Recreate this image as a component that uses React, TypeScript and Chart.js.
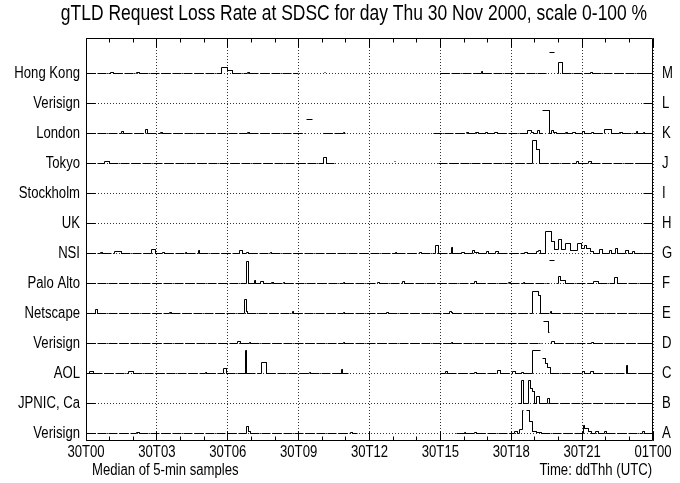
import React, { useEffect, useRef } from 'react';
import { Chart, registerables } from 'chart.js';

Chart.register(...registerables);

const TITLE = 'gTLD Request Loss Rate at SDSC for day Thu 30 Nov 2000, scale 0-100 %';
const FOOT_LEFT = 'Median of 5-min samples';
const FOOT_RIGHT = 'Time: ddThh (UTC)';
const X_TICK_LABELS = ['30T00', '30T03', '30T06', '30T09', '30T12', '30T15', '30T18', '30T21', '01T00'];
// rows from bottom (A) to top (M)
const ROW_NAMES = ['Verisign', 'JPNIC, Ca', 'AOL', 'Verisign', 'Netscape', 'Palo Alto', 'NSI', 'UK', 'Stockholm', 'Tokyo', 'London', 'Verisign', 'Hong Kong'];
const ROW_LETTERS = ['A', 'B', 'C', 'D', 'E', 'F', 'G', 'H', 'I', 'J', 'K', 'L', 'M'];

// [hour since 30T00, loss %] : value holds until the next entry; null = no data
const rowA = [[0,0],[2.15,4],[2.25,0],[6.8,30],[6.87,9],[6.95,0],[11.2,4],[11.28,0],[11.5,null],[15.7,0],[16.0,4],[16.08,0],[16.45,5],[16.55,0],[18.15,7],[18.25,0],[18.37,18],[18.47,100],[18.53,null],[18.63,100],[18.78,52],[18.88,10],[19.05,4],[19.3,0],[21.05,37],[21.12,22],[21.25,10],[21.4,0],[21.55,8],[21.7,0],[21.95,10],[22.05,0],[23.55,7],[23.65,0],[24,0]];
const rowB = [[0,null],[18.3,0],[18.45,100],[18.5,0],[18.75,100],[18.82,67],[18.9,52],[18.98,0],[19.08,33],[19.18,0],[19.55,22],[19.6,0],[24,0]];
const rowC = [[0,0],[0.15,8],[0.3,0],[1.8,8],[2.0,0],[5.05,4],[5.12,0],[5.84,22],[5.95,0],[6.75,100],[6.78,0],[7.43,47],[7.62,0],[9.45,4],[9.52,0],[10.8,18],[10.85,0],[11.1,null],[15.0,0],[15.2,8],[15.3,0],[16.45,4],[16.52,0],[17.4,13],[17.55,0],[18.05,8],[18.2,0],[18.45,4],[18.5,0],[18.9,100],[19.25,null],[19.33,67],[19.45,45],[19.55,25],[19.65,0],[21.0,8],[21.1,0],[21.35,8],[21.5,0],[22.88,37],[22.92,0],[24,0]];
const rowD = [[0,0],[6.4,9],[6.55,0],[6.9,3],[6.95,0],[10.9,3],[10.95,0],[15.45,5],[15.52,0],[19.3,null],[19.35,97],[19.57,48],[19.6,null],[19.65,0],[19.7,9],[19.82,0],[21.4,4],[21.48,0],[24,0]];
const rowE = [[0,0],[0.42,18],[0.47,0],[3.55,4],[3.62,0],[6.72,63],[6.78,9],[6.85,0],[8.75,9],[8.8,0],[10.9,3],[10.95,0],[12.7,5],[12.8,0],[15.4,8],[15.45,4],[15.5,0],[18.9,97],[19.15,82],[19.22,0],[19.65,8],[19.72,0],[24,0]];
const rowF = [[0,0],[6.8,97],[6.86,0],[7.12,14],[7.17,0],[7.38,9],[7.5,0],[7.85,4],[7.92,0],[8.35,3],[8.4,0],[10.88,5],[10.95,0],[12.35,4],[12.42,0],[13.38,9],[13.48,0],[16.45,9],[16.55,0],[17.88,4],[17.95,0],[18.5,4],[18.58,0],[19.6,null],[19.64,100],[19.85,null],[19.9,0],[20.0,32],[20.1,13],[20.3,0],[21.5,9],[21.7,0],[22.38,27],[22.5,0],[24,0]];
const rowG = [[0,0],[0.6,4],[0.68,0],[1.2,9],[1.5,0],[2.78,18],[2.95,0],[3.25,4],[3.32,0],[4.2,4],[4.25,0],[4.75,13],[4.8,0],[6.5,13],[6.62,0],[6.8,4],[6.88,0],[7.8,4],[7.85,0],[13.1,4],[13.15,0],[14.12,4],[14.18,0],[14.8,36],[14.92,0],[15.45,27],[15.52,0],[15.9,4],[16.0,0],[16.35,13],[16.45,4],[16.6,0],[16.95,9],[17.05,0],[17.35,9],[17.45,0],[18.55,4],[18.7,0],[19.05,9],[19.15,13],[19.25,0],[19.43,97],[19.7,52],[19.85,18],[19.98,60],[20.13,18],[20.3,45],[20.5,13],[20.8,45],[20.97,22],[21.1,36],[21.2,22],[21.35,9],[21.5,0],[21.75,18],[21.85,0],[22.15,13],[22.25,0],[22.4,22],[22.5,0],[22.85,13],[22.95,0],[23.12,9],[23.2,0],[24,0]];
const rowH = [[0,null]];
const rowI = [[0,null]];
const rowJ = [[0,0],[0.8,9],[1.0,0],[10.05,27],[10.2,0],[10.5,null],[13.05,7],[13.12,null],[14.9,0],[18.9,100],[19.05,60],[19.2,0],[20.75,8],[20.85,0],[21.25,8],[21.4,0],[24,0]];
const rowK = [[0,0],[1.5,8],[1.6,0],[2.5,18],[2.6,0],[3.15,4],[3.22,0],[6.85,4],[6.9,0],[9.3,null],[9.34,60],[9.6,null],[10.05,0],[10.9,4],[10.95,0],[11.0,null],[14.7,0],[16.1,4],[16.2,0],[16.5,5],[16.6,0],[16.9,4],[17.0,0],[17.3,4],[17.4,0],[18.7,13],[18.85,4],[18.95,0],[19.1,13],[19.2,0],[19.33,null],[19.33,100],[19.6,0],[19.7,13],[19.8,4],[19.9,0],[20.3,4],[20.4,0],[20.6,4],[20.7,0],[21.0,9],[21.1,0],[21.4,4],[21.5,0],[21.95,18],[22.25,0],[22.6,4],[22.7,0],[23.3,8],[23.35,0],[23.6,4],[23.65,0],[24,0]];
const rowL = [[0,null]];
const rowM = [[0,0],[1.05,5],[1.15,0],[2.15,4],[2.25,0],[5.74,27],[6.01,14],[6.22,0],[6.85,4],[6.92,0],[9.0,null],[10.08,4],[10.15,null],[15.0,0],[16.72,8],[16.8,0],[19.55,null],[19.64,92],[19.85,null],[19.95,0],[19.98,50],[20.15,0],[21.35,4],[21.45,0],[24,0]];

const ROWS = [rowA, rowB, rowC, rowD, rowE, rowF, rowG, rowH, rowI, rowJ, rowK, rowL, rowM];

const ROW_SCALE = 0.75 / 100; // 100 % loss = 0.75 of a row
const FONT = "'Liberation Sans', Arial, Helvetica, sans-serif";
const NARROW = 0.82; // horizontal squeeze to imitate a narrow Helvetica

function toPoints(row: (number | null)[][], base: number) {
  const out: { x: number; y: number | null }[] = [];
  let prev: number | null | undefined = undefined;
  for (const [x, v] of row) {
    if (prev !== undefined && prev !== null) out.push({ x: x as number, y: base + prev * ROW_SCALE });
    out.push({ x: x as number, y: v === null ? null : base + (v as number) * ROW_SCALE });
    prev = v;
  }
  return out;
}

function narrowText(ctx: CanvasRenderingContext2D, text: string, x: number, y: number, size: number, align: CanvasTextAlign) {
  ctx.save();
  ctx.translate(x, y);
  ctx.scale(NARROW, 1);
  ctx.font = `${size}px ${FONT}`;
  ctx.textAlign = align;
  ctx.textBaseline = 'middle';
  ctx.fillStyle = '#000';
  ctx.fillText(text, 0, 0);
  ctx.restore();
}

const crispPlugin = {
  id: 'crispPlugin',
  beforeDatasetsDraw(chart: any) {
    chart.data.datasets.forEach((_: any, i: number) => {
      const meta = chart.getDatasetMeta(i);
      meta.data.forEach((el: any) => {
        if (!el.skip && isFinite(el.x) && isFinite(el.y)) {
          el.x = Math.floor(el.x) + 0.5;
          el.y = Math.floor(el.y) + 0.5;
        }
      });
    });
  },
};

const framePlugin = {
  id: 'framePlugin',
  afterDraw(chart: any) {
    const { ctx, chartArea } = chart;
    const xs = chart.scales.x;
    const ys = chart.scales.y;
    const y2 = chart.scales.y2;
    const L = chartArea.left + 0.5, R = chartArea.right - 0.5, T = chartArea.top + 0.5, B = chartArea.bottom - 0.5;
    ctx.save();
    ctx.strokeStyle = '#000';
    ctx.lineWidth = 1;
    ctx.setLineDash([]);
    ctx.beginPath();
    ctx.rect(L, T, R - L, B - T);
    for (let i = 0; i < ROW_NAMES.length; i++) {
      const y = Math.floor(ys.getPixelForValue(i)) + 0.5;
      ctx.moveTo(L, y); ctx.lineTo(L + 9, y);
      ctx.moveTo(R, y); ctx.lineTo(R - 9, y);
    }
    for (let h = 0; h <= 24; h++) {
      const x = Math.floor(xs.getPixelForValue(h)) + 0.5;
      const len = h % 3 === 0 ? 9 : 4;
      ctx.moveTo(x, B); ctx.lineTo(x, B - len);
      ctx.moveTo(x, T); ctx.lineTo(x, T + len);
    }
    ctx.stroke();
    ctx.restore();

    // tick labels, placed by the chart's scales
    ys.ticks.forEach((t: any, i: number) => {
      narrowText(ctx, ROW_NAMES[i], chartArea.left - 6, ys.getPixelForValue(t.value), 16, 'right');
    });
    y2.ticks.forEach((t: any, i: number) => {
      narrowText(ctx, ROW_LETTERS[i], chartArea.right + 9, y2.getPixelForValue(t.value), 16, 'left');
    });
    xs.ticks.forEach((t: any) => {
      narrowText(ctx, X_TICK_LABELS[Math.round(t.value / 3)], xs.getPixelForValue(t.value), chartArea.bottom + 11.5, 16, 'center');
    });

    narrowText(ctx, TITLE, 354, 14, 21.3, 'center');
    narrowText(ctx, FOOT_LEFT, 92, 471, 16, 'left');
    narrowText(ctx, FOOT_RIGHT, 652, 471, 16, 'right');
  },
};

export default function App() {
  const ref = useRef<HTMLCanvasElement | null>(null);
  useEffect(() => {
    if (!ref.current) return;
    const datasets = ROWS.map((row, i) => ({
      label: ROW_NAMES[i] + ' ' + ROW_LETTERS[i],
      data: toPoints(row, i),
      borderColor: '#000',
      borderWidth: 1,
      pointRadius: 0,
      tension: 0,
      spanGaps: false,
      fill: false,
      segment: {
        borderDash: (ctx: any) => {
          const a = ctx.p0.parsed.y, b = ctx.p1.parsed.y;
          return a === b && Math.abs(a - Math.round(a)) < 1e-9 ? [9, 2] : undefined;
        },
      },
    }));
    const chart = new Chart(ref.current, {
      type: 'line',
      data: { datasets },
      options: {
        responsive: false,
        devicePixelRatio: 1,
        animation: false,
        events: [],
        layout: { padding: { top: 38, left: 0, right: 0, bottom: 0 } },
        plugins: { legend: { display: false }, title: { display: false }, tooltip: { enabled: false } },
        scales: {
          x: {
            type: 'linear',
            position: 'bottom',
            min: 0,
            max: 24,
            afterFit: (s: any) => { s.height = 42; },
            ticks: { display: false, stepSize: 3, autoSkip: false, maxRotation: 0 },
            grid: { color: 'rgba(0,0,0,0.8)', drawTicks: false, lineWidth: 1 },
            border: { display: false, dash: [1, 2] },
          },
          y: {
            type: 'linear',
            position: 'left',
            min: -0.25,
            max: 13.1833,
            afterFit: (s: any) => { s.width = 86; },
            afterBuildTicks: (s: any) => { s.ticks = ROW_NAMES.map((_, i) => ({ value: i })); },
            ticks: { display: false },
            grid: { color: 'rgba(0,0,0,0.8)', drawTicks: false, lineWidth: 1 },
            border: { display: false, dash: [1, 2] },
          },
          y2: {
            type: 'linear',
            position: 'right',
            min: -0.25,
            max: 13.1833,
            afterFit: (s: any) => { s.width = 27; },
            afterBuildTicks: (s: any) => { s.ticks = ROW_LETTERS.map((_, i) => ({ value: i })); },
            ticks: { display: false },
            grid: { display: false, drawTicks: false },
            border: { display: false },
          },
        },
      },
      plugins: [crispPlugin, framePlugin],
    } as any);
    return () => chart.destroy();
  }, []);
  return (
    <div style={{ position: 'fixed', left: 0, top: 0, width: 680, height: 483, background: '#fff' }}>
      <canvas ref={ref} width={680} height={483} style={{ display: 'block' }} />
    </div>
  );
}
